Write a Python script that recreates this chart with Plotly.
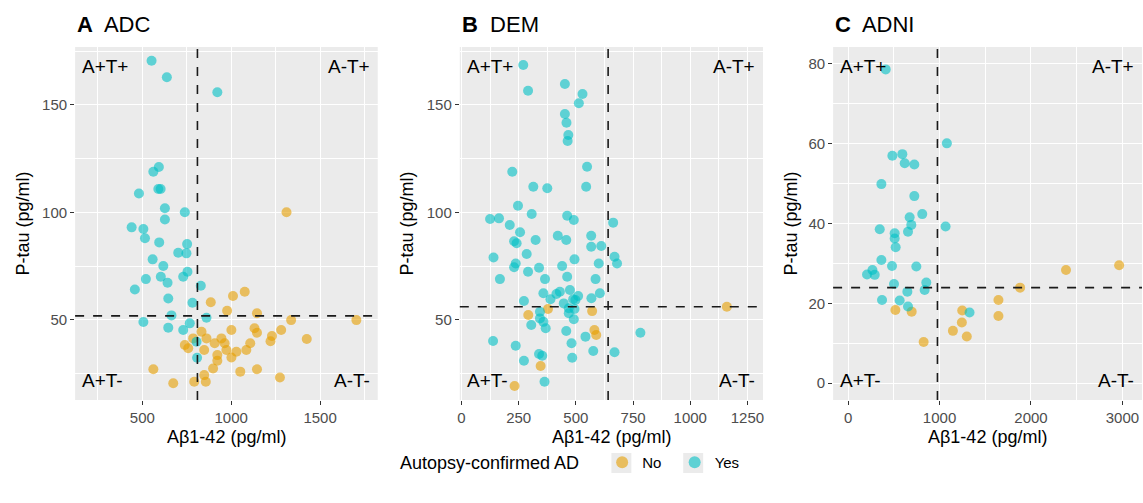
import plotly.graph_objects as go

# ---------------- data ----------------
# Panel A (ADC)
a_yes_x = [552, 638, 922, 593, 562, 590, 603, 481, 627, 739, 627, 440, 506, 515, 595, 752, 702, 748, 558, 618,
           754, 730, 604, 520, 642, 829, 458, 646, 782, 664, 861, 506, 767, 646, 730, 805, 808]
a_yes_y = [170.6, 162.9, 155.9, 121.1, 118.9, 110.9, 110.9, 108.8, 101.9, 100, 96.7, 93, 92.2, 87.9, 86, 85.2,
           81.2, 80.9, 78.1, 75, 72.3, 70, 70, 68.9, 67.2, 65.8, 64.1, 59.9, 57.9, 52, 50.9, 48.9, 48.3, 46.3,
           45.2, 39.7, 32.3]
a_no_x = [1311, 885, 1010, 1076, 977, 1145, 1337, 1704, 833, 1001, 1131, 1145, 1281, 1229, 1221, 1425, 786, 861,
          945, 907, 963, 739, 758, 848, 973, 1029, 1085, 1107, 922, 1001, 922, 898, 562, 1051, 1145, 848, 1274,
          674, 792, 857]
a_no_y = [100, 58.1, 61, 63, 54.2, 53, 49.8, 49.8, 44.4, 45.2, 46, 43.9, 45.2, 42.4, 40, 41, 41.3, 41.3, 41.3, 39,
          39, 38.2, 36.7, 35.9, 35.9, 35.1, 35.9, 39, 33.5, 32.4, 30.9, 27.3, 26.9, 25.8, 26.9, 24.2, 23.1, 20.4,
          21.1, 21.1]

# Panel B (DEM)
b_yes_x = [270, 291, 452, 529, 513, 452, 459, 467, 464, 549, 222, 314, 375, 545, 247, 307, 462, 491, 125, 164,
           663, 211, 256, 241, 230, 324, 421, 458, 567, 567, 611, 285, 140, 494, 669, 680, 600, 237, 440, 339,
           291, 462, 168, 365, 586, 358, 430, 474, 605, 568, 389, 488, 498, 273, 447, 469, 494, 343, 469, 343,
           491, 358, 305, 368, 458, 782, 542, 138, 237, 481, 576, 669, 339, 353, 484, 273, 363, 415, 510, 230]
b_yes_y = [168.6, 156.6, 159.8, 155.1, 150.8, 145.8, 141.7, 136, 133.2, 121.2, 118.9, 111.9, 111.2, 111.9, 103.1,
           99.2, 98.4, 96.4, 96.9, 97.2, 95.2, 94.1, 90.7, 85.6, 86.5, 87.1, 89.1, 87.1, 89.1, 84, 84.3, 80.6, 79,
           78.1, 79.3, 76.2, 76.2, 76.2, 75, 74.2, 72.3, 70, 68.9, 68.9, 68.9, 62.3, 63, 63.8, 62.3, 60, 59.5,
           59.5, 59.2, 58.7, 57.6, 55.3, 55, 53.7, 53, 50.6, 50.2, 49, 47.5, 46, 44.7, 43.9, 42.1, 40.1, 37.9, 39,
           35.4, 34.8, 34, 33.2, 32.3, 30.9, 21.1, 62, 61, 74.4]
b_no_x = [292, 378, 571, 581, 589, 346, 232, 1160]
b_no_y = [52.2, 55, 54, 45.2, 42.9, 28.4, 19.1, 56]

# Panel C (ADNI)
c_yes_x = [411, 1080, 484, 593, 619, 724, 364, 724, 811, 673, 691, 1066, 346, 509, 655, 509, 520, 364, 480, 746,
           266, 207, 291, 855, 502, 837, 648, 371, 564, 655, 1328]
c_yes_y = [78.5, 60, 56.9, 57.3, 55, 54.7, 49.8, 46.8, 42.3, 41.5, 39.6, 39.2, 38.5, 37.5, 37.9, 36.2, 34, 30.8,
           29.3, 29.2, 28.3, 27.2, 27.1, 25.2, 24.8, 23.3, 22.9, 20.8, 20.7, 19.2, 17.7]
c_no_x = [517, 695, 826, 1248, 1244, 1146, 1298, 1644, 1644, 1881, 2383, 2964]
c_no_y = [18.3, 17.9, 10.3, 18.2, 15.2, 13.1, 11.7, 20.8, 16.8, 23.9, 28.3, 29.5]

panel_letters = ["A", "B", "C"]
panel_names = ["ADC", "DEM", "ADNI"]
abeta_cutoffs = [810, 641, 977]
ptau_cutoffs = [51.8, 56, 23.9]
quadrant_labels = ["A+T+", "A-T+", "A+T-", "A-T-"]
legend_title = "Autopsy-confirmed AD"
group_names = ["No", "Yes"]
x_title = "Aβ1-42 (pg/ml)"
y_title = "P-tau (pg/ml)"

# ---------------- style ----------------
W, H = 1143, 503
FONT = "Liberation Sans, Arial, sans-serif"
COL_NO = "#E69F00"
COL_YES = "#00BFC4"
PANEL_BG = "#EBEBEB"

# pixel geometry of panels
px_x = [(73.3, 376.7), (459.0, 763.0), (833.3, 1143.0)]
px_y = (47.0, 400.0)
x_ranges = [[122, 1824], [-7.4, 1318], [-164, 3214]]
y_ranges = [[12.6, 177.0], [12.6, 177.0], [-4.2, 84.1]]
x_ticks = [dict(dtick=500, tick0=0, minor=250), dict(dtick=250, tick0=0, minor=125), dict(dtick=1000, tick0=0, minor=500)]
y_ticks = [dict(dtick=50, tick0=0, minor=25), dict(dtick=50, tick0=0, minor=25), dict(dtick=20, tick0=0, minor=10)]
ytitle_px = [22, 407, 792]
legend_key_px = [621, 693]   # centres of the grey legend key boxes
legend_y_px = 463

data = [((a_no_x, a_no_y), (a_yes_x, a_yes_y)),
        ((b_no_x, b_no_y), (b_yes_x, b_yes_y)),
        ((c_no_x, c_no_y), (c_yes_x, c_yes_y))]

fig = go.Figure()
layout = dict(
    width=W, height=H,
    margin=dict(l=0, r=0, t=0, b=0),
    paper_bgcolor="white",
    plot_bgcolor=PANEL_BG,
    font=dict(family=FONT, color="black"),
    showlegend=True,
    legend=dict(orientation="h", x=0.4996, xanchor="center", y=1 - legend_y_px / H, yanchor="middle",
                title=dict(text=legend_title + "   ", side="left", font=dict(size=18)),
                font=dict(size=15), itemsizing="constant", bgcolor="rgba(0,0,0,0)"),
    annotations=[], shapes=[],
)

legend_labels = ["No&nbsp;&nbsp;", "Yes"]

for i in range(3):
    sfx = "" if i == 0 else str(i + 1)
    xa, ya = "x" + sfx, "y" + sfx
    (nx, ny), (yx, yy) = data[i]
    for gi, (gx, gy, col) in enumerate([(nx, ny, COL_NO), (yx, yy, COL_YES)]):
        fig.add_trace(go.Scatter(
            x=gx, y=gy, mode="markers", xaxis=xa, yaxis=ya,
            name=legend_labels[gi], legendgroup=group_names[gi], showlegend=(i == 0),
            marker=dict(size=10, color=col, opacity=0.6, line=dict(width=0)),
        ))
    x0, x1 = px_x[i]
    dom_x = [x0 / W, x1 / W]
    dom_y = [1 - px_y[1] / H, 1 - px_y[0] / H]
    common = dict(showline=False, zeroline=False, ticks="outside", ticklen=4, tickwidth=1.1,
                  tickcolor="#333333", showgrid=True, gridcolor="white", gridwidth=1.3,
                  tickfont=dict(size=15, color="#4D4D4D", family=FONT))
    layout["xaxis" + sfx] = dict(domain=dom_x, range=x_ranges[i], anchor=ya, tickmode="linear",
                                 tick0=x_ticks[i]["tick0"], dtick=x_ticks[i]["dtick"],
                                 minor=dict(dtick=x_ticks[i]["minor"], tick0=0, showgrid=True,
                                            gridcolor="white", gridwidth=0.6, ticks=""),
                                 **common)
    layout["yaxis" + sfx] = dict(domain=dom_y, range=y_ranges[i], anchor=xa, tickmode="linear",
                                 tick0=y_ticks[i]["tick0"], dtick=y_ticks[i]["dtick"],
                                 minor=dict(dtick=y_ticks[i]["minor"], tick0=0, showgrid=True,
                                            gridcolor="white", gridwidth=0.6, ticks=""),
                                 **common)
    # cutoff lines
    layout["shapes"].append(dict(type="line", xref=xa, yref=ya + " domain", x0=abeta_cutoffs[i],
                                 x1=abeta_cutoffs[i], y0=0, y1=1,
                                 line=dict(color="#1A1A1A", width=1.6, dash="dash")))
    layout["shapes"].append(dict(type="line", xref=xa + " domain", yref=ya, x0=0, x1=1,
                                 y0=ptau_cutoffs[i], y1=ptau_cutoffs[i],
                                 line=dict(color="#1A1A1A", width=1.6, dash="dash")))
    # quadrant labels
    qpos = [(0, 1, "left", "top", 5, -7), (1, 1, "right", "top", -6, -7),
            (0, 0, "left", "bottom", 5, 7), (1, 0, "right", "bottom", -6, 7)]
    for lab, (qx, qy, xanc, yanc, xs, ys) in zip(quadrant_labels, qpos):
        layout["annotations"].append(dict(text=lab, xref=xa + " domain", yref=ya + " domain", x=qx, y=qy,
                                          xanchor=xanc, yanchor=yanc, xshift=xs, yshift=ys, showarrow=False,
                                          font=dict(size=19, color="black", family=FONT)))
    # panel title
    layout["annotations"].append(dict(text="<b>" + panel_letters[i] + "</b>  " + panel_names[i],
                                      xref="paper", yref="paper", x=x0 / W, y=1 - 25 / H,
                                      xanchor="left", yanchor="middle", showarrow=False,
                                      font=dict(size=22, color="black", family=FONT)))
    # axis titles
    layout["annotations"].append(dict(text=x_title, xref="paper", yref="paper", x=(x0 + x1) / 2 / W,
                                      y=1 - 437 / H, xanchor="center", yanchor="middle", showarrow=False,
                                      font=dict(size=18, color="black", family=FONT)))
    layout["annotations"].append(dict(text=y_title, xref="paper", yref="paper", x=ytitle_px[i] / W,
                                      y=1 - (px_y[0] + px_y[1]) / 2 / H, xanchor="center", yanchor="middle",
                                      textangle=-90, showarrow=False,
                                      font=dict(size=18, color="black", family=FONT)))

# grey legend key boxes (ggplot style)
for kx in legend_key_px:
    layout["shapes"].append(dict(type="rect", xref="paper", yref="paper", layer="below",
                                 x0=(kx - 10) / W, x1=(kx + 10) / W,
                                 y0=1 - (legend_y_px + 10) / H, y1=1 - (legend_y_px - 10) / H,
                                 fillcolor=PANEL_BG, line=dict(width=0)))

fig.update_layout(**layout)
fig.write_html("out.html", config={"displayModeBar": False},
               post_script="document.body.style.margin='0';document.body.style.overflow='hidden';")
